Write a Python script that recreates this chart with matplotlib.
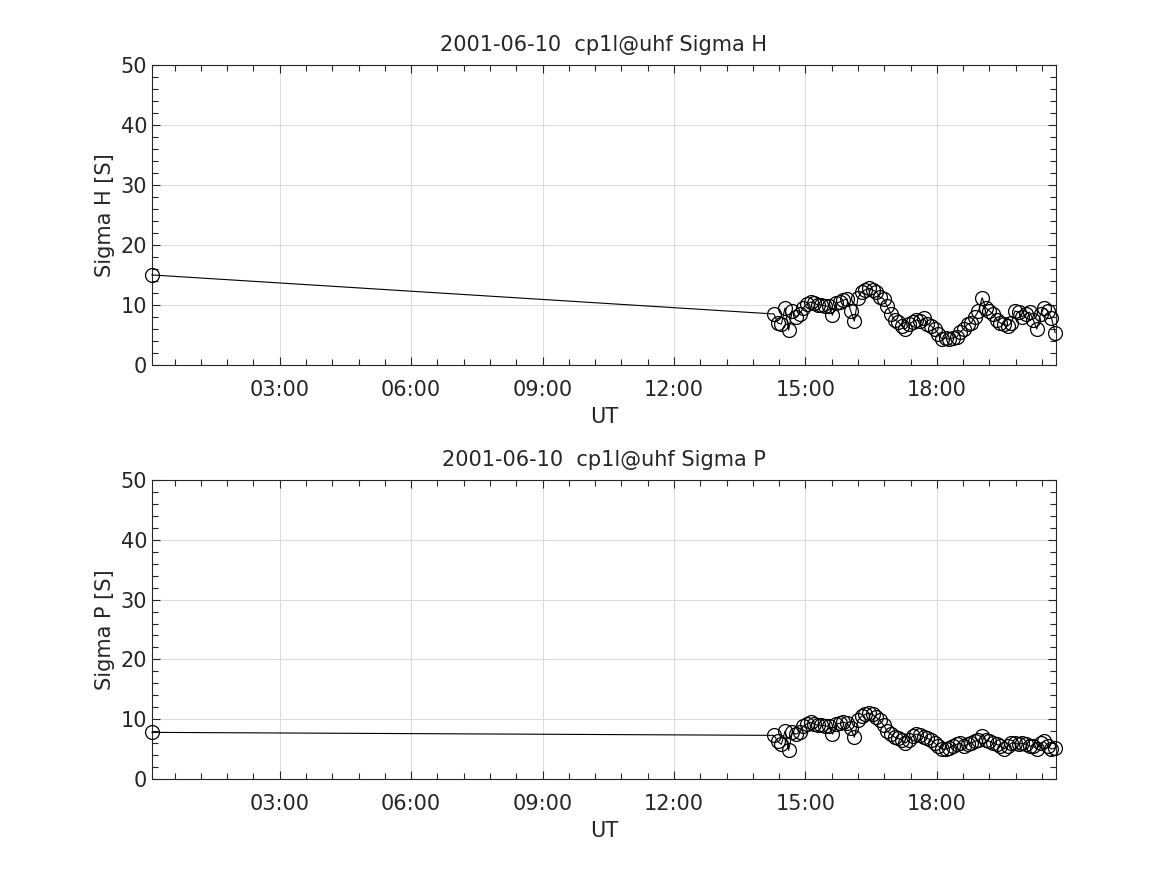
import matplotlib.pyplot as plt
from matplotlib.ticker import MultipleLocator, FuncFormatter

date_str = "2001-06-10"
site = "cp1l@uhf"

# first sample, then the dense block in the afternoon (UT, HH:MM)
times = [
    "00:05",
    "14:17", "14:22", "14:27", "14:32", "14:37", "14:42", "14:47", "14:52",
    "14:57", "15:02", "15:07", "15:12", "15:17", "15:22", "15:27", "15:32",
    "15:37", "15:42", "15:47", "15:52", "15:57", "16:02", "16:07", "16:12",
    "16:17", "16:22", "16:27", "16:32", "16:37", "16:42", "16:47", "16:52",
    "16:57", "17:02", "17:07", "17:12", "17:17", "17:22", "17:27", "17:32",
    "17:37", "17:42", "17:47", "17:52", "17:57", "18:02", "18:07", "18:12",
    "18:17", "18:22", "18:27", "18:32", "18:37", "18:42", "18:47", "18:52",
    "18:57", "19:02", "19:07", "19:12", "19:17", "19:22", "19:27", "19:32",
    "19:37", "19:42", "19:47", "19:52", "19:57", "20:02", "20:07", "20:12",
    "20:17", "20:22", "20:27", "20:32", "20:37", "20:42",
]

sigma_h = [
    15.0,
    8.5, 7.0, 6.8, 9.5, 5.8, 9.0, 8.0, 8.5, 9.5, 10.2, 10.5, 10.3, 10.0,
    10.0, 9.8, 9.8, 8.3, 10.3, 10.5, 10.8, 11.0, 9.0, 7.3, 11.2, 12.2, 12.5,
    12.8, 12.5, 12.2, 11.3, 11.0, 9.8, 8.5, 7.5, 7.2, 6.5, 6.0, 6.8, 7.2,
    7.5, 7.3, 7.8, 6.8, 6.5, 6.0, 5.2, 4.3, 4.5, 4.3, 4.5, 4.6, 5.5, 6.0,
    6.8, 7.0, 8.0, 9.0, 11.2, 9.5, 9.0, 8.5, 7.5, 7.0, 6.8, 6.5, 7.0, 9.0,
    8.8, 8.0, 8.5, 8.8, 7.5, 6.0, 8.5, 9.5, 9.0, 7.8, 5.4,
]

sigma_p = [
    7.8,
    7.3, 6.3, 5.8, 8.0, 4.8, 7.8, 7.5, 7.8, 8.8, 9.2, 9.5, 9.2, 9.0, 9.0,
    8.9, 8.8, 7.5, 9.2, 9.3, 9.5, 9.3, 8.5, 7.0, 9.8, 10.5, 10.8, 11.0,
    10.8, 10.3, 9.8, 9.0, 8.0, 7.5, 7.0, 6.8, 6.5, 6.0, 6.5, 7.2, 7.5, 7.3,
    7.0, 6.8, 6.5, 6.0, 5.5, 5.0, 5.0, 5.2, 5.5, 5.8, 6.0, 5.5, 5.8, 6.0,
    6.3, 6.5, 7.2, 6.5, 6.3, 6.0, 5.8, 5.5, 5.0, 5.5, 6.0, 6.0, 5.8, 6.0,
    5.8, 5.5, 5.5, 5.0, 6.0, 6.3, 5.5, 5.0, 5.2,
]

hours = [int(t[:2]) + int(t[3:]) / 60 for t in times]

txt = "#262626"
plt.rcParams["font.family"] = "DejaVu Sans"
plt.rcParams["text.color"] = txt
plt.rcParams["axes.labelcolor"] = txt
plt.rcParams["xtick.color"] = txt
plt.rcParams["ytick.color"] = txt

fig = plt.figure(figsize=(11.67, 8.75), dpi=100)
ax_h = fig.add_axes([0.1302, 0.5829, 0.7747, 0.3429])
ax_p = fig.add_axes([0.1302, 0.1097, 0.7747, 0.3417])


def hhmm(x, pos):
    return f"{int(round(x)) % 24:02d}:00"


for ax, vals, name in [(ax_h, sigma_h, "Sigma H"), (ax_p, sigma_p, "Sigma P")]:
    ax.plot(hours, vals, color="black", lw=0.8, marker="o", ms=10,
            mfc="none", mec="black", mew=0.9, clip_on=False, zorder=3)
    ax.set_xlim(hours[0], hours[-1] + 0.02)
    ax.set_ylim(0, 50)
    ax.xaxis.set_major_locator(MultipleLocator(3))
    ax.xaxis.set_minor_locator(MultipleLocator(0.6))
    ax.xaxis.set_major_formatter(FuncFormatter(hhmm))
    ax.yaxis.set_major_locator(MultipleLocator(10))
    ax.yaxis.set_minor_locator(MultipleLocator(2))
    ax.grid(True, which="major", color="#dcdcdc", lw=0.8)
    ax.set_axisbelow(True)
    ax.tick_params(which="both", direction="in", top=True, right=True,
                   labelsize=15)
    ax.tick_params(axis="x", which="major", pad=11)
    ax.tick_params(which="major", length=6, width=0.8)
    ax.tick_params(which="minor", length=4, width=0.8)
    for s in ax.spines.values():
        s.set_linewidth(0.8)
        s.set_color(txt)
    ax.set_title(f"{date_str}  {site} {name}", fontsize=15, pad=10)
    ax.set_ylabel(f"{name} [S]", fontsize=15)
    ax.set_xlabel("UT", fontsize=15, labelpad=5)

fig.savefig("out.png", dpi=100)
